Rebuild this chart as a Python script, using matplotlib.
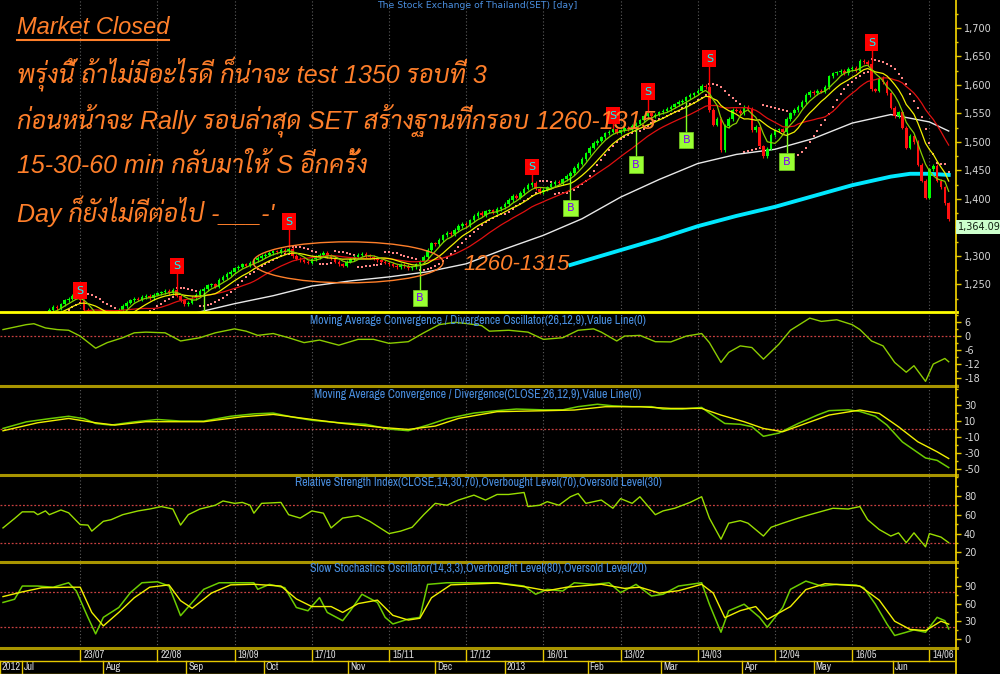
import numpy as np
import pandas as pd
import matplotlib
matplotlib.use("Agg")
import matplotlib.pyplot as plt
from matplotlib.patches import Ellipse
from matplotlib.lines import Line2D
from matplotlib.ticker import FuncFormatter, AutoMinorLocator

plt.rcParams["axes.unicode_minus"] = False

# ---------------- data ----------------
closes = [
    1170, 1168, 1175, 1172, 1180, 1186, 1190, 1195, 1192, 1198, 1196,
    1200, 1205, 1210, 1208, 1215, 1222, 1225, 1230, 1228, 1222,
    1205, 1195, 1190, 1185, 1180, 1183, 1190, 1188, 1195, 1205,
    1212, 1218, 1222, 1225, 1223, 1228, 1230, 1226, 1232, 1234, 1236, 1238, 1235, 1240, 1230,
    1222, 1215, 1218, 1226, 1232, 1238, 1242, 1248, 1250, 1246,
    1258, 1263, 1268, 1272, 1278, 1281, 1285, 1283, 1288, 1293,
    1296, 1300, 1302, 1305, 1308, 1306, 1310, 1308, 1312, 1300,
    1295, 1292, 1290, 1288, 1294, 1298, 1302, 1305, 1300, 1296, 1290, 1285, 1283, 1290, 1294,
    1298, 1302, 1304, 1300, 1298, 1295, 1292, 1290, 1288, 1286, 1283, 1280, 1284, 1282, 1278,
    1280, 1285, 1290, 1298, 1310, 1322, 1320, 1328, 1336, 1340,
    1338, 1345, 1352, 1356, 1354, 1362, 1370, 1375, 1372, 1378, 1380, 1376, 1382, 1385, 1391,
    1398, 1405, 1402, 1410, 1418, 1424, 1428,
    1418, 1412, 1416, 1420, 1426, 1430, 1428, 1434, 1440,
    1445, 1455, 1462, 1470, 1480, 1490, 1498, 1502, 1508, 1515, 1518, 1522, 1516, 1520,
    1524, 1522, 1528, 1532, 1538, 1545, 1550, 1545, 1548, 1552, 1555, 1558, 1562, 1566, 1570,
    1572, 1578, 1582, 1585, 1590, 1598, 1596, 1556, 1530, 1540,
    1485, 1528, 1540, 1556, 1555, 1550, 1562, 1558, 1520, 1526, 1492, 1475, 1488, 1512, 1520,
    1522, 1518, 1540, 1550,
    1556, 1562, 1570, 1582, 1588, 1585, 1590, 1588, 1596, 1615, 1620, 1622, 1625, 1620, 1628,
    1630, 1625, 1642, 1640, 1636,
    1592, 1590, 1612, 1605, 1585, 1560, 1545, 1552, 1525, 1490, 1510, 1500, 1460, 1432, 1402,
    1452, 1458, 1432, 1420, 1392, 1364,
]
last_close = "1,364.09"

grid_bars = [20, 40, 60, 80, 100, 120, 140, 160, 180, 200, 220, 240]
grid_dates = ["23/07", "22/08", "19/09", "17/10", "15/11", "17/12",
              "16/01", "13/02", "14/03", "12/04", "16/05", "14/06"]
month_bars = [-0.8, 4.9, 26, 47.5, 67.5, 89.5, 112, 130, 151.5, 170.5, 191.5, 210, 230.5]
month_names = ["2012", "Jul", "Aug", "Sep", "Oct", "Nov", "Dec", "2013",
               "Feb", "Mar", "Apr", "May", "Jun"]

white_bars = [40, 50, 60, 70, 80, 90, 100, 110, 120, 130, 140, 150, 160, 170,
              180, 190, 200, 210, 220, 230, 240, 245]
white_vals = [1190, 1200, 1216, 1230, 1247, 1256, 1263, 1272, 1286, 1312, 1336, 1365,
              1403, 1434, 1462, 1478, 1487, 1506, 1533, 1548, 1535, 1519]
cyan_bars = [147, 150, 160, 170, 180, 190, 200, 210, 220, 230, 235, 240, 245]
cyan_vals = [1284, 1290, 1310, 1330, 1352, 1370, 1386, 1405, 1424, 1439, 1444, 1444, 1442]

sell_bars = [20, 45, 74, 137, 158, 167, 183, 225]
sell_box = [1239, 1282, 1360, 1456, 1546, 1588, 1646, 1674]
buy_bars = [52, 108, 147, 164, 177, 203]
buy_box = [1170, 1226, 1384, 1460, 1503, 1465]

osc_bars = [0, 6, 8, 11, 14, 17, 20, 24, 27, 31, 34, 37, 42, 46, 51, 55, 60, 63, 66, 70,
            74, 78, 82, 87, 92, 96, 100, 105, 109, 113, 117, 120, 124, 126, 131, 136, 140,
            145, 149, 153, 155, 159, 161, 165, 169, 173, 177, 181, 183, 186, 188, 191, 194,
            197, 201, 204, 209, 212, 216, 220, 222, 225, 228, 231, 234, 236, 239, 241, 244, 245]
osc_vals = [2.8, 4.9, 5.3, 3.5, 2.8, 2.5, 0, -5.2, -2.8, -0.7, 1.4, 1.7, 1.4, -2.1, -0.7,
            1.4, 3.1, 2.1, 0.3, 1.1, -0.7, -2.8, -1.7, -3.9, -1.4, -1.4, -3.1, -2.4, 1.4,
            4.9, 5.9, 5.4, 4.5, 2.1, 2.5, 1.7, -1.4, -0.7, 2.5, 3.1, 1.7, -2.1, 0, 0.3, -2.4,
            -2.5, 0, 1.1, -2.8, -11.3, -7, -4.2, -4.9, -9.9, -3.5, 2.5, 7.7, 6.3, 7, 4.9,
            2.8, -2.1, -4.2, -11.3, -15.5, -12.7, -19.4, -12, -9.6, -11]

macd_bars = [0, 6, 12, 17, 21, 24, 28, 34, 40, 46, 52, 59, 65, 70, 75, 80, 87, 94, 100,
             105, 110, 115, 122, 128, 133, 140, 145, 149, 154, 158, 163, 168, 171, 176,
             181, 183, 187, 191, 194, 197, 201, 206, 211, 214, 219, 222, 226, 229, 233,
             236, 239, 242, 245]
macd_vals = [0.8, 9, 13, 16, 13, 7, 5, 9, 12, 10, 10, 16, 19, 20, 15, 11, 8, 6, 0, -2, 5,
             13, 20, 23, 25, 24, 24, 28, 31, 29, 28, 28, 25, 25, 27, 20, 7, 6, 3, -9, -5, 7,
             17.5, 23, 24, 22, 16, 5, -16, -26, -36, -39, -48]
sig_bars = [0, 9, 17, 24, 29, 37, 46, 52, 62, 70, 78, 88, 98, 105, 112, 118, 128, 140,
            148, 156, 165, 173, 181, 186, 192, 197, 202, 208, 214, 222, 227, 232, 237, 242, 245]
sig_vals = [-2.1, 7.9, 13.3, 7.9, 5, 9.2, 9.2, 9.2, 15.4, 18.3, 13.3, 7.1, 2.1, -0.4, 3.8,
            13.3, 21.7, 22.9, 23.8, 27.9, 27.9, 25.8, 25.8, 17.5, 9.2, 0.8, -3.3, 7.1, 17.5,
            23.8, 19.6, 2.9, -15.8, -28.3, -36.7]

rsi_bars = [0, 3, 5, 8, 9, 11, 12, 15, 17, 20, 22, 23, 26, 28, 31, 35, 38, 41, 44, 46, 48,
            51, 55, 57, 60, 62, 64, 65, 67, 72, 74, 77, 80, 83, 85, 88, 92, 95, 97, 100, 103,
            106, 109, 112, 115, 118, 122, 125, 128, 131, 135, 136, 139, 141, 144, 147, 149,
            151, 155, 158, 160, 163, 165, 169, 171, 174, 178, 181, 183, 186, 188, 191, 193,
            197, 199, 202, 206, 209, 212, 215, 219, 222, 224, 227, 230, 232, 234, 236, 239,
            240, 243, 245]
rsi_vals = [46, 56, 63, 63, 60, 64, 60, 65, 62, 49.5, 49, 42.6, 53, 54.7, 60, 64, 66, 68.6,
            66, 49, 60, 66, 70, 74.5, 72, 73, 70, 61.6, 72, 73, 60, 56.4, 64, 61.6, 46, 56.4,
            59, 53, 47.8, 40, 42.6, 46.7, 60, 72, 70, 75.5, 80.7, 75.5, 81.4, 81.4, 83.5, 68.6,
            70, 73.8, 70, 79, 82.4, 72, 75.5, 66.8, 77, 72, 79, 60, 64, 66.8, 73, 79, 56.4, 34,
            51, 53.7, 51, 37.4, 46.7, 51, 56.4, 60, 63.4, 66.8, 66, 68.6, 54.7, 44.3, 37.4,
            40.8, 30.4, 40.8, 26, 40, 36.3, 30.4]

k_bars = [0, 3, 5, 9, 13, 17, 19, 22, 24, 26, 30, 33, 36, 40, 43, 46, 49, 52, 56, 60, 65,
          66, 69, 73, 76, 79, 82, 84, 88, 90, 93, 97, 99, 101, 105, 108, 110, 115, 122, 128,
          135, 138, 141, 145, 148, 153, 157, 160, 164, 168, 171, 175, 181, 183, 186, 188,
          192, 196, 198, 202, 204, 208, 212, 216, 221, 223, 226, 229, 231, 234, 236, 239,
          242, 244, 245]
k_vals = [62, 67.5, 90, 90, 88, 95.6, 81.5, 36.6, 8.4, 36.6, 53.4, 78.7, 95.6, 97.3, 90,
          39.4, 62, 84.4, 95.6, 95.6, 95.6, 84.4, 92.8, 87.2, 53.4, 47.8, 70.3, 45, 30.9,
          47.8, 76, 62, 36.6, 25.3, 33.7, 36.6, 92.8, 95.6, 95.6, 95.6, 90, 76, 84.4, 81.5,
          95.6, 92.8, 95.6, 78.7, 92.8, 73, 76, 90, 95.6, 59, 11.2, 47.8, 59, 36.6, 19.7,
          53.4, 84.4, 98.4, 90, 92.8, 91.7, 87.2, 59, 25.3, 5.6, 11.2, 15.2, 11.2, 36.6,
          30.9, 16.9]
d_bars = [0, 5, 10, 17, 20, 23, 26, 30, 34, 38, 43, 46, 49, 54, 59, 65, 72, 76, 80, 85,
          88, 92, 97, 101, 105, 108, 111, 116, 128, 136, 141, 146, 155, 161, 165, 170, 175,
          181, 184, 187, 191, 195, 198, 204, 208, 213, 222, 227, 231, 235, 239, 243, 245]
d_vals = [72, 80, 87, 88, 88, 45, 22, 45, 70, 88, 92, 65, 52, 78, 92, 93, 90, 68, 55, 55,
          45, 60, 66, 40, 32, 35, 70, 92, 95, 88, 82, 88, 93, 86, 88, 78, 82, 93, 78, 36, 48,
          55, 33, 55, 84, 94, 90, 66, 30, 16, 14, 30, 25]

# ---------------- derived series ----------------
n = len(closes)
x = np.arange(n)
c = np.array(closes, dtype=float)
o = np.r_[c[0], c[:-1]]
hi = np.maximum(o, c) + 3
lo = np.minimum(o, c) - 3
s = pd.Series(c)
ma5 = s.rolling(5, min_periods=1).mean()
ma10 = s.rolling(10, min_periods=1).mean()
ma20 = s.rolling(20, min_periods=1).mean()


def psar(high, low, step=0.02, amax=0.2):
    out = np.zeros(len(high))
    up, af, ep = True, step, high[0]
    out[0] = low[0]
    for i in range(1, len(high)):
        v = out[i - 1] + af * (ep - out[i - 1])
        if up:
            v = min(v, low[i - 1], low[max(i - 2, 0)])
            if low[i] < v:
                up, v, ep, af = False, ep, low[i], step
            elif high[i] > ep:
                ep, af = high[i], min(af + step, amax)
        else:
            v = max(v, high[i - 1], high[max(i - 2, 0)])
            if high[i] > v:
                up, v, ep, af = True, ep, high[i], step
            elif low[i] < ep:
                ep, af = low[i], min(af + step, amax)
        out[i] = v
    return out


sar = psar(hi, lo)

# ---------------- layout ----------------
W, H = 1000, 674
AXR = 955
DX = 3.86
XL = -3 / DX
XR = XL + AXR / DX
GOLD = "#e6c800"
OLIVE = "#a89400"
ORANGE = "#ff7f2a"
BLUE = "#4a8fe0"
TICKTXT = "#d8d8d8"
NARROW = ["Liberation Sans Narrow", "Archivo Narrow", "DejaVu Sans"]

fig = plt.figure(figsize=(W / 100, H / 100), dpi=100, facecolor="black")


def panel(top, bottom, lim, ticks, fmt=None):
    ax = fig.add_axes([0, 1 - bottom / H, AXR / W, (bottom - top) / H])
    ax.set_facecolor("black")
    ax.set_xlim(XL, XR)
    ax.set_ylim(*lim)
    for sp in ax.spines.values():
        sp.set_visible(False)
    ax.set_xticks([])
    ax.yaxis.tick_right()
    ax.set_yticks(ticks)
    if fmt:
        ax.yaxis.set_major_formatter(FuncFormatter(fmt))
    ax.yaxis.set_minor_locator(AutoMinorLocator(2))
    ax.tick_params(axis="y", which="major", colors=GOLD, labelcolor=TICKTXT,
                   labelsize=7, length=4, width=1, pad=2.5)
    ax.tick_params(axis="y", which="minor", colors=GOLD, length=2, width=1)
    for lab in ax.get_yticklabels():
        lab.set_family("DejaVu Sans")
    for b in grid_bars:
        ax.axvline(b, color="#5c5c5c", lw=0.8, ls=(0, (1, 2)), zorder=0)
    return ax


# price panel
axp = panel(0, 312, (1201.4, 1749), [1250, 1300, 1400, 1450, 1500, 1550, 1600, 1650, 1700],
            lambda v, p: f"{v:,.0f}")
up = c >= o
col = np.where(up, "#00ff00", "#ff1010")
axp.vlines(x, lo, hi, colors=col, lw=0.8, zorder=3)
axp.bar(x, np.maximum(np.abs(c - o), 1.5), bottom=np.minimum(o, c), width=0.66,
        color=col, linewidth=0, zorder=4)
axp.scatter(x, sar, s=3, marker="s", color="#ff8484", linewidths=0, zorder=2)
axp.plot(white_bars, white_vals, color="#e8e8e8", lw=1.0, zorder=2)
axp.plot(cyan_bars, cyan_vals, color="#00e8ff", lw=2.8, zorder=2)
axp.plot(x, ma20, color="#e01010", lw=0.9, zorder=5)
axp.plot(x, ma10, color="#f0f000", lw=0.9, zorder=5)
axp.plot(x, ma5, color="#88cc00", lw=0.9, zorder=5)

for b, lvl in zip(sell_bars, sell_box):
    axp.plot([b, b], [lvl, hi[b]], color="#ff0000", lw=1, zorder=6)
    axp.text(b, lvl, "S", color="#00ffff", fontsize=8, ha="center", va="center", zorder=7,
             clip_on=True,
             bbox=dict(boxstyle="square,pad=0.3", fc="#ff0000", ec="none"))
for b, lvl in zip(buy_bars, buy_box):
    axp.plot([b, b], [lvl, lo[b]], color="#80ff20", lw=1, zorder=6)
    axp.text(b, lvl, "B", color="#7a00ff", fontsize=8, ha="center", va="center", zorder=7,
             clip_on=True,
             bbox=dict(boxstyle="square,pad=0.3", fc="#99ff33", ec="#70c020", lw=0.6))

axp.add_patch(Ellipse((89.4, 1288.6), 49.2, 72, fill=False, ec=ORANGE, lw=1.0, zorder=8))

# oscillator panels
axo = panel(313, 386, (-21.4, 9.9), [6, 0, -6, -12, -18])
axo.axhline(0, color="#c84040", lw=0.9, ls=(0, (1.5, 1.5)))
axo.plot(osc_bars, osc_vals, color="#8ccc00", lw=1.0)

axm = panel(387, 474, (-56, 52.5), [30, 10, -10, -30, -50])
axm.axhline(0, color="#c84040", lw=0.9, ls=(0, (1.5, 1.5)))
axm.plot(macd_bars, macd_vals, color="#6ccc00", lw=1.1)
axm.plot(sig_bars, sig_vals, color="#f0f000", lw=1.0)

axr = panel(475, 561, (11, 102), [80, 60, 40, 20])
for lvl in (70, 30):
    axr.axhline(lvl, color="#c84040", lw=0.9, ls=(0, (1.5, 1.5)))
axr.plot(rsi_bars, rsi_vals, color="#99dd00", lw=1.0)

axs = panel(562, 648, (-15.7, 131), [90, 60, 30, 0])
for lvl in (80, 20):
    axs.axhline(lvl, color="#c84040", lw=0.9, ls=(0, (1.5, 1.5)))
axs.plot(k_bars, k_vals, color="#6ccc00", lw=1.1)
axs.plot(d_bars, d_vals, color="#f0f000", lw=1.0)

# panel titles
fig.text(477 / W, 1 - 6 / H, "The Stock Exchange of Thailand(SET) [day]", color=BLUE,
         fontsize=6.7, ha="center", va="center", family="DejaVu Sans")
titles = [
    (320, "Moving Average Convergence / Divergence Oscillator(26,12,9),Value Line(0)"),
    (395, "Moving Average Convergence / Divergence(CLOSE,26,12,9),Value Line(0)"),
    (482, "Relative Strength Index(CLOSE,14,30,70),Overbought Level(70),Oversold Level(30)"),
    (568, "Slow Stochastics Oscillator(14,3,3),Overbought Level(80),Oversold Level(20)"),
]
for ty, tt in titles:
    fig.text(478 / W, 1 - ty / H, tt, color=BLUE, fontsize=8.6, ha="center", va="center",
             family=NARROW)

# date rows
axd = fig.add_axes([0, 0, AXR / W, 26 / H])
axd.set_facecolor("black")
axd.set_xlim(XL, XR)
axd.set_ylim(0, 26)
axd.axis("off")
axd.axhline(13.5, color=GOLD, lw=1)
axd.axhline(0.5, color=GOLD, lw=1)
for b, d in zip(grid_bars, grid_dates):
    axd.plot([b, b], [13.5, 26], color=GOLD, lw=1)
    axd.text(b + 0.8, 19.5, d, color=TICKTXT, fontsize=7.5, va="center", ha="left",
             family=NARROW)
for b, m in zip(month_bars, month_names):
    axd.plot([b, b], [0.5, 13.5], color=GOLD, lw=1)
    axd.text(b + 0.5, 6.8, m, color=TICKTXT, fontsize=7.5, va="center", ha="left",
             family=NARROW)

# separators and right axis line
fig.add_artist(Line2D([0, 957 / W], [1 - 312 / H] * 2, color="#ffff00", lw=2))
for yy in (386.5, 474.5, 561.5, 648):
    fig.add_artist(Line2D([0, 957 / W], [1 - yy / H] * 2, color=OLIVE, lw=2.2))
fig.add_artist(Line2D([956 / W] * 2, [0, 1], color=GOLD, lw=1.3))

# last price box
fig.text(958 / W, 1 - 227 / H, last_close, color="#102010", fontsize=7, va="center",
         ha="left", family="DejaVu Sans",
         bbox=dict(boxstyle="square,pad=0.2", fc="#ccffcc", ec="none"))

# commentary
TXT = ["Liberation Sans", "Sarabun"]
fig.text(17 / W, 1 - 28 / H, "Market Closed", color=ORANGE, fontsize=17, style="italic",
         family=TXT, ha="left", va="center")
fig.add_artist(Line2D([17 / W, 169 / W], [1 - 40 / H] * 2, color=ORANGE, lw=1.5))
notes = [
    (75, "พรุ่งนี้ ถ้าไม่มีอะไรดี ก็น่าจะ test 1350 รอบที่ 3"),
    (120, "ก่อนหน้าจะ Rally รอบล่าสุด SET สร้างฐานที่กรอบ 1260-1315"),
    (166, "15-30-60 min กลับมาให้ S อีกครั้ง"),
    (211, "Day ก็ยังไม่ดีต่อไป -___-'"),
]
for ny, nt in notes:
    fig.text(17 / W, 1 - ny / H, nt, color=ORANGE, fontsize=18, style="italic",
             family=TXT, ha="left", va="center")
fig.text(463 / W, 1 - 265 / H, "1260-1315", color=ORANGE, fontsize=16, style="italic",
         family=TXT, ha="left", va="center")

fig.savefig("out.png", dpi=100, facecolor="black")
